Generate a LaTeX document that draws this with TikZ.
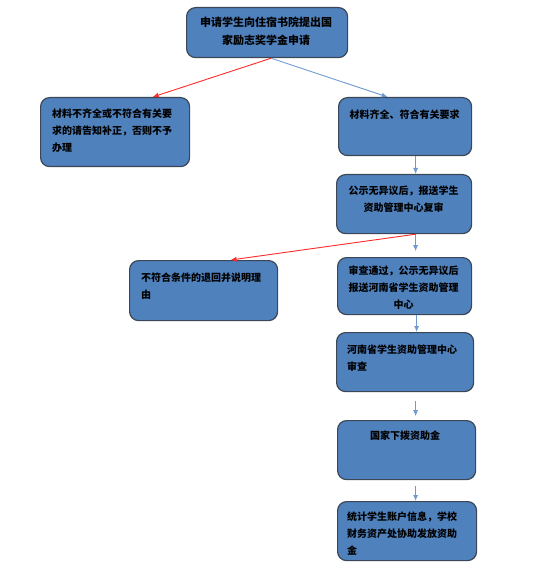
\documentclass[tikz,border=0pt]{standalone}
\usepackage{fontspec}
\newfontfamily\cjk{Noto Sans CJK SC}
\usetikzlibrary{arrows.meta,calc}
\definecolor{boxfill}{HTML}{4F81BD}
\definecolor{boxline}{HTML}{3B4656}
\definecolor{bluel}{HTML}{6E9AD0}
\definecolor{redl}{HTML}{FF2A2A}
\tikzset{
  box/.style={draw=boxline, line width=1.2pt, fill=boxfill, rounded corners=9pt, anchor=north west, inner sep=0pt},
  txt/.style={font=\cjk\bfseries\fontsize{10}{17}\selectfont, inner sep=0pt, text=black},
  bluearrow/.style={draw=bluel, line width=0.9pt, -{Latex[length=6pt,width=5pt]}},
  redarrow/.style={draw=redl, line width=0.9pt, -{Latex[length=6pt,width=5pt]}},
}
\begin{document}
\begin{tikzpicture}[x=1pt,y=-1pt]
\useasboundingbox (0,0) rectangle (554,577);
% boxes
\node[box, minimum width=161pt, minimum height=50pt] (b1) at (186,7) {};
\node[box, minimum width=149pt, minimum height=69pt] (b2) at (40,97) {};
\node[box, minimum width=133pt, minimum height=58pt] (b3) at (338,97) {};
\node[box, minimum width=135pt, minimum height=59pt] (b4) at (336,174) {};
\node[box, minimum width=148pt, minimum height=60pt] (b5) at (129,260) {};
\node[box, minimum width=134pt, minimum height=57pt] (b6) at (337,257) {};
\node[box, minimum width=137pt, minimum height=59pt] (b7) at (336,332) {};
\node[box, minimum width=138pt, minimum height=59pt] (b8) at (337,420) {};
\node[box, minimum width=139pt, minimum height=59pt] (b9) at (337,501) {};
% texts
\node[txt, align=center, font=\cjk\bfseries\fontsize{11}{18}\selectfont] (t1) at (266,31) {申请学生向住宿书院提出国\\家励志奖学金申请};
\node[txt, align=left, anchor=north west] (t2) at (52,109) {材料不齐全或不符合有关要\\求的请告知补正，否则不予\\办理};
\node[txt, align=center] (t3) at (404.5,115) {材料齐全、符合有关要求};
\node[txt, align=center] (t4) at (403.5,199) {公示无异议后，报送学生\\资助管理中心复审};
\node[txt, align=left, anchor=north west] (t5) at (141,273) {不符合条件的退回并说明理\\由};
\node[txt, align=center] (t6) at (403.5,288) {审查通过，公示无异议后\\报送河南省学生资助管理\\中心};
\node[txt, align=left, anchor=north west] (t7) at (347,345) {河南省学生资助管理中心\\审查};
\node[txt, align=center] (t8) at (405,436) {国家下拨资助金};
\node[txt, align=left, anchor=north west] (t9) at (347,512) {统计学生账户信息，学校\\财务资产处协助发放资助\\金};
% connectors
\coordinate (e4) at ($(b4.south)+(11.5,17)$);
\coordinate (s7) at ($(b7.south)+(10.5,9)$);
\coordinate (e7) at ($(b7.south)+(10.5,24)$);
\coordinate (s8) at ($(b8.south)+(9,6)$);
\draw[redarrow] ([xshift=4pt]b1.south) -- ([xshift=37.5pt]b2.north);
\draw[bluearrow] ([xshift=4pt]b1.south) -- ([xshift=-17.5pt]b3.north);
\draw[bluearrow] ([xshift=10.5pt]b3.south) -- ([xshift=11.5pt]b4.north);
\draw[bluearrow] ([xshift=11.5pt]b4.south) -- (e4);
\draw[redarrow] ([xshift=11.5pt]b4.south) -- ([xshift=27pt]b5.north);
\draw[bluearrow] ([xshift=12pt]b6.south) -- ([xshift=11.5pt]b7.north);
\draw[bluearrow] (s7) -- (e7);
\draw[bluearrow] (s8) -- ([xshift=8.5pt]b9.north);
\end{tikzpicture}
\end{document}
